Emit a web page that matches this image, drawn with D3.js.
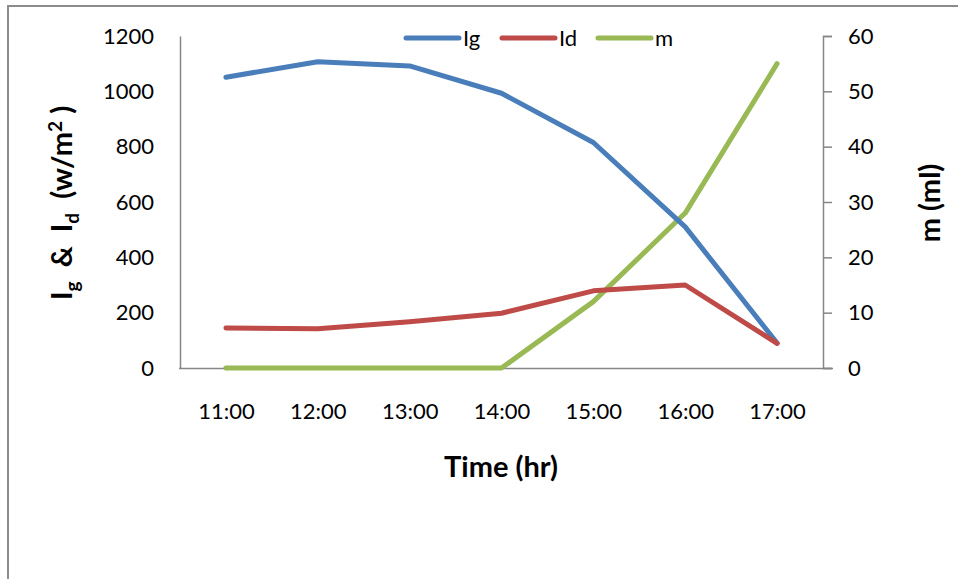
<!DOCTYPE html>
<html>
<head>
<meta charset="utf-8">
<script src="https://cdn.jsdelivr.net/npm/d3@7"></script>
<style>
  html, body { margin: 0; padding: 0; background: #fff; }
  svg { display: block; font-family: Lato, "Open Sans", sans-serif; }
</style>
</head>
<body>
<svg id="chart" width="958" height="579"></svg>
<script>
// Hourly readings
const times = ["11:00", "12:00", "13:00", "14:00", "15:00", "16:00", "17:00"];
const ig = [1051, 1107, 1092, 993, 815, 510, 90];   // global irradiance (W/m²)
const id = [145, 142, 167, 198, 279, 300, 89];      // diffuse irradiance (W/m²)
const m  = [0, 0, 0, 0, 12, 28, 55];                 // collected volume (ml)
const leftTicks = [0, 200, 400, 600, 800, 1000, 1200];
const rightTicks = [0, 10, 20, 30, 40, 50, 60];

const svg = d3.select("#chart");
const plot = { left: 180, right: 823, top: 36, bottom: 368 };
const axisColor = "#868686";

// outer frame
svg.append("path")
  .attr("d", "M8,579 V6 H958")
  .attr("fill", "none").attr("stroke", "#8c8c8c").attr("stroke-width", 2);

const x = d3.scalePoint().domain(times)
  .range([plot.left, plot.right]).padding(0.5);
const yL = d3.scaleLinear().domain([0, 1200]).range([plot.bottom, plot.top]);
const yR = d3.scaleLinear().domain([0, 60]).range([plot.bottom, plot.top]);

// left axis (no tick marks)
const gL = svg.append("g").attr("transform", `translate(${plot.left},0)`)
  .call(d3.axisLeft(yL).tickValues(leftTicks).tickFormat(d3.format("d"))
    .tickSize(0).tickPadding(26));
// right axis (outward ticks)
const gR = svg.append("g").attr("transform", `translate(${plot.right},0)`)
  .call(d3.axisRight(yR).tickValues(rightTicks).tickSize(9).tickPadding(16));
// bottom axis
const gB = svg.append("g").attr("transform", `translate(0,${plot.bottom})`)
  .call(d3.axisBottom(x).tickSize(0).tickPadding(35));

[gL, gR, gB].forEach(g => {
  g.select(".domain").attr("stroke", axisColor).attr("stroke-width", 1.5);
  g.selectAll(".tick line").attr("stroke", axisColor).attr("stroke-width", 1.5);
  g.selectAll(".tick text").attr("fill", "#000")
    .style("font-family", "Lato, 'Open Sans', sans-serif").style("font-size", "22px");
});
gB.select(".domain").attr("d", `M${plot.left - 1},0.5H${plot.right + 10}`);

// series lines
const series = [
  { name: "Ig", values: ig, y: yL, color: "#4A7EBB" },
  { name: "Id", values: id, y: yL, color: "#BE4B48" },
  { name: "m",  values: m,  y: yR, color: "#98B954" }
];
const drawOrder = [series[2], series[0], series[1]];
drawOrder.forEach(s => {
  const line = d3.line().x((d, i) => x(times[i])).y(d => s.y(d));
  svg.append("path")
    .datum(s.values)
    .attr("d", line)
    .attr("fill", "none")
    .attr("stroke", s.color)
    .attr("stroke-width", 5)
    .attr("stroke-linejoin", "round")
    .attr("stroke-linecap", "round");
});

// legend
const legendX = [406, 502, 598];
series.forEach((s, i) => {
  const g = svg.append("g").attr("transform", `translate(${legendX[i]},38)`);
  g.append("line").attr("x1", 0).attr("x2", 53).attr("y1", 0).attr("y2", 0)
    .attr("stroke", s.color).attr("stroke-width", 5).attr("stroke-linecap", "round");
  g.append("text").attr("x", 57).attr("y", 8).text(s.name)
    .attr("font-size", 22).attr("fill", "#000");
});

// axis titles
const yTitle = svg.append("text")
  .attr("transform", "translate(72,203) rotate(-90)")
  .attr("text-anchor", "middle")
  .attr("xml:space", "preserve")
  .attr("font-size", 29).attr("font-weight", "bold").attr("fill", "#000");
yTitle.append("tspan").text("I");
yTitle.append("tspan").attr("font-size", 19).attr("dy", 7).text("g");
yTitle.append("tspan").attr("dy", -7).text("  &  I");
yTitle.append("tspan").attr("font-size", 19).attr("dy", 7).text("d");
yTitle.append("tspan").attr("dy", -7).text("  (w/m");
yTitle.append("tspan").attr("font-size", 19).attr("dy", -10).text("2");
yTitle.append("tspan").attr("dy", 10).text(" )");

svg.append("text")
  .attr("transform", "translate(940,203) rotate(-90)")
  .attr("text-anchor", "middle")
  .attr("font-size", 29).attr("font-weight", "bold").attr("fill", "#000")
  .text("m (ml)");

svg.append("text")
  .attr("x", 501).attr("y", 477)
  .attr("text-anchor", "middle")
  .attr("font-size", 29).attr("font-weight", "bold").attr("fill", "#000")
  .text("Time (hr)");
</script>
</body>
</html>
